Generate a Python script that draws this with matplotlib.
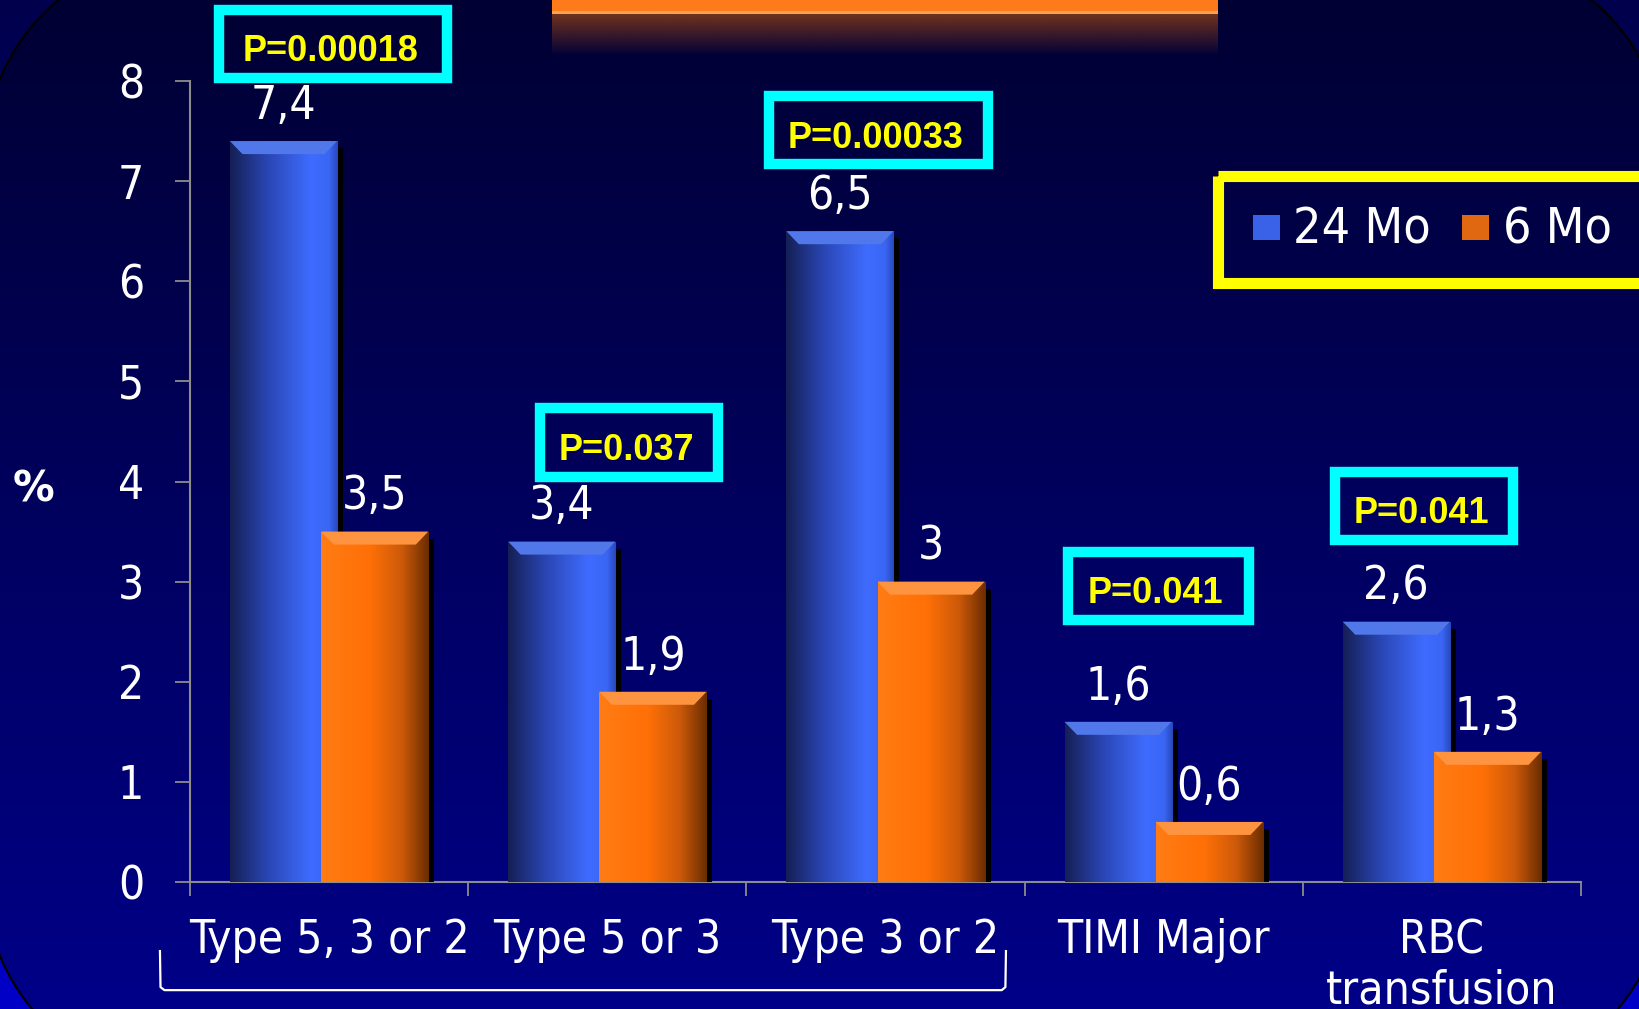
import numpy as np
import matplotlib
matplotlib.use("Agg")
import matplotlib.pyplot as plt
import matplotlib.transforms as mtransforms
from matplotlib.patches import Rectangle, Polygon
from matplotlib.colors import LinearSegmentedColormap, to_rgb

# ---------------- dados ----------------
categorias = ["Type 5, 3 or 2", "Type 5 or 3", "Type 3 or 2", "TIMI Major", "RBC\ntransfusion"]
mo24 = [7.4, 3.4, 6.5, 1.6, 2.6]
mo6 = [3.5, 1.9, 3.0, 0.6, 1.3]
series = ["24 Mo", "6 Mo"]
pvalores = ["P=0.00018", "P=0.037", "P=0.00033", "P=0.041", "P=0.041"]
yticks = [0, 1, 2, 3, 4, 5, 6, 7, 8]

plt.rcParams['font.family'] = ['DejaVu Sans']

W_FIG, H_FIG = 1639, 1009
fig = plt.figure(figsize=(W_FIG / 100, H_FIG / 100), dpi=100)

# ---------------- fundo ----------------
bg = fig.add_axes([0, 0, 1, 1])
bg.set_zorder(-1)
bg.axis("off")

def grad_vertical(c_top, c_bot, n=256):
    t = np.linspace(0, 1, n)[:, None]
    a = np.array(to_rgb(c_top))
    b = np.array(to_rgb(c_bot))
    img = a[None, None, :] * (1 - t[..., None]) + b[None, None, :] * t[..., None]
    return np.repeat(img, 2, axis=1)

def ret_arredondado(x0, y0, x1, y1, r, n=60):
    # cantos: (centro, angulo inicial) -- eixo y invertido (pixels)
    pts = []
    cantos = [((x0 + r, y0 + r), 180), ((x1 - r, y0 + r), 270),
              ((x1 - r, y1 - r), 0), ((x0 + r, y1 - r), 90)]
    for (cx, cy), a0 in cantos:
        ang = np.radians(np.linspace(a0, a0 + 90, n))
        pts += list(zip(cx + r * np.cos(ang), cy + r * np.sin(ang)))
    return np.array(pts)

bg.imshow(grad_vertical("#00004c", "#0000c8"), extent=[0, W_FIG, H_FIG, 0], aspect="auto")
painel = Polygon(ret_arredondado(-15, -45, 1665, 1080, 200), closed=True,
                 facecolor="none", edgecolor="black", lw=1.6, zorder=3)
bg.add_patch(painel)
im_in = bg.imshow(grad_vertical("#000033", "#000088"), extent=[0, W_FIG, H_FIG, 0],
                  aspect="auto", zorder=2)
im_in.set_clip_path(painel)
bg.set_xlim(0, W_FIG)
bg.set_ylim(H_FIG, 0)

# ---------------- eixo principal ----------------
ax = fig.add_axes([190 / W_FIG, 1 - 882 / H_FIG, (1581 - 190) / W_FIG, (882 - 81) / H_FIG])
ax.patch.set_alpha(0)

x = np.arange(len(categorias)) + 0.5
W = 0.385
OFF = 0.164

cmap_azul = LinearSegmentedColormap.from_list(
    "azul", [(0, "#151f55"), (0.35, "#2a46b4"), (0.75, "#3f6cff"), (0.92, "#3a66f4"), (1, "#2848bc")])
cmap_laranja = LinearSegmentedColormap.from_list(
    "laranja", [(0, "#ff7c14"), (0.45, "#ff7006"), (0.75, "#cc5a0a"), (1, "#6a2c00")])
grad = np.linspace(0, 1, 256)[None, :]

b24 = ax.bar(x - OFF, mo24, W, color="none", edgecolor="none", zorder=3)
b6 = ax.bar(x + OFF, mo6, W, color="none", edgecolor="none", zorder=5)

sombra_tr = ax.transData + mtransforms.ScaledTranslation(0.06, -0.07, fig.dpi_scale_trans)

def barra_3d(rect, cmap, cor_topo, z):
    x0, y0 = rect.get_xy()
    w, h = rect.get_width(), rect.get_height()
    ax.add_patch(Rectangle((x0, y0), w, h, facecolor="black", edgecolor="none",
                           transform=sombra_tr, zorder=z - 0.5))
    im = ax.imshow(grad, cmap=cmap, extent=[x0, x0 + w, y0, y0 + h], aspect="auto",
                   zorder=z, interpolation="bilinear")
    im.set_clip_path(rect)
    dx, dy = 0.045, 0.13
    ax.add_patch(Polygon([(x0, y0 + h), (x0 + w, y0 + h), (x0 + w - dx, y0 + h - dy),
                          (x0 + dx, y0 + h - dy)], closed=True, facecolor=cor_topo,
                         edgecolor="none", zorder=z + 0.1))

for r in b24:
    barra_3d(r, cmap_azul, "#5078ea", 3)
for r in b6:
    barra_3d(r, cmap_laranja, "#ff9440", 5)

def rotulo(v):
    return f"{v:g}".replace(".", ",")

for xc, v in zip(x - OFF, mo24):
    ax.annotate(rotulo(v), (xc, v), xytext=(0, 25), textcoords="offset points",
                ha="center", va="center", color="white", fontsize=33, fontstretch="condensed")
for xc, v in zip(x + OFF, mo6):
    ax.annotate(rotulo(v), (xc, v), xytext=(0, 25), textcoords="offset points",
                ha="center", va="center", color="white", fontsize=33, fontstretch="condensed")

ax.set_xlim(0, len(categorias))
ax.set_ylim(0, 8)

for s in ["top", "right"]:
    ax.spines[s].set_visible(False)
for s in ["left", "bottom"]:
    ax.spines[s].set_color("#8c8c8c")
    ax.spines[s].set_linewidth(1.5)

ax.set_yticks(yticks)
ax.tick_params(axis="y", colors="#8c8c8c", length=11, width=1.3, labelcolor="white",
               labelsize=33, pad=22)
ax.set_xticks(np.arange(len(categorias) + 1))
ax.set_xticklabels([])
ax.tick_params(axis="x", which="major", colors="#8c8c8c", length=10, width=1.3)
ax.set_xticks(x, categorias, minor=True)
ax.tick_params(axis="x", which="minor", length=0, labelcolor="white", labelsize=33, pad=26)
for lbl in ax.get_xticklabels(minor=True) + ax.get_yticklabels():
    lbl.set_fontstretch("condensed")
for lbl in ax.get_xticklabels(minor=True):
    lbl.set_linespacing(1.15)

# chave sob os tres primeiros grupos
ax.plot([-0.108, -0.106, -0.092, 2.918, 2.931, 2.933],
        [-0.69, -1.05, -1.08, -1.08, -1.05, -0.69],
        color="white", lw=1.6, clip_on=False)

fig.text(34 / W_FIG, 1 - 489 / H_FIG, "%", color="white", fontsize=30, fontweight="bold",
         ha="center", va="center")

# caixas de p-valor
caixas = [(0.514, 8.37, 0.818, 0.684), (1.578, 4.39, 0.638, 0.684), (2.475, 7.51, 0.785, 0.674),
          (3.481, 2.957, 0.649, 0.674), (4.436, 3.756, 0.638, 0.674)]
for (cx, cy, w, h), txt in zip(caixas, pvalores):
    ax.add_patch(Rectangle((cx - w / 2, cy - h / 2), w, h, facecolor="none", edgecolor="#00ffff",
                           lw=7.5, clip_on=False, zorder=6))
    ax.text(cx - 0.01, cy - 0.08, txt, color="#ffff00", fontsize=26, fontweight="bold",
            family="Liberation Sans", ha="center", va="center", zorder=7, clip_on=False)

# ---------------- sobreposicao: legenda e titulo ----------------
ov = fig.add_axes([0, 0, 1, 1], zorder=10)
ov.axis("off")
ov.patch.set_alpha(0)

# fragmento do titulo cortado
ov.add_patch(Rectangle((552, 0), 666, 13, facecolor="#ff7a1a", edgecolor="none"))
ov.add_patch(Rectangle((552, 11), 666, 2.5, facecolor="#ffa050", edgecolor="none"))
fade = np.zeros((64, 2, 4))
fade[..., 0], fade[..., 1], fade[..., 2] = 0.45, 0.2, 0.12
fade[..., 3] = np.linspace(1, 0, 64)[:, None]
ov.imshow(fade, extent=[552, 1218, 56, 13], aspect="auto")

# legenda
ov.add_patch(Rectangle((1217.5, 175.5), 430, 107, facecolor="none", edgecolor="#ffff00", lw=8))
cores_leg = ["#3a62e8", "#e06810"]
for (xq, xt), nome, cor in zip([(1253, 1293), (1462, 1503)], series, cores_leg):
    ov.add_patch(Rectangle((xq, 215), 27, 25, facecolor=cor, edgecolor="none"))
    ov.text(xt, 229, nome, color="white", fontsize=36, fontstretch="condensed",
            ha="left", va="center")
ov.set_xlim(0, W_FIG)
ov.set_ylim(H_FIG, 0)

fig.savefig("out.png", dpi=100)
